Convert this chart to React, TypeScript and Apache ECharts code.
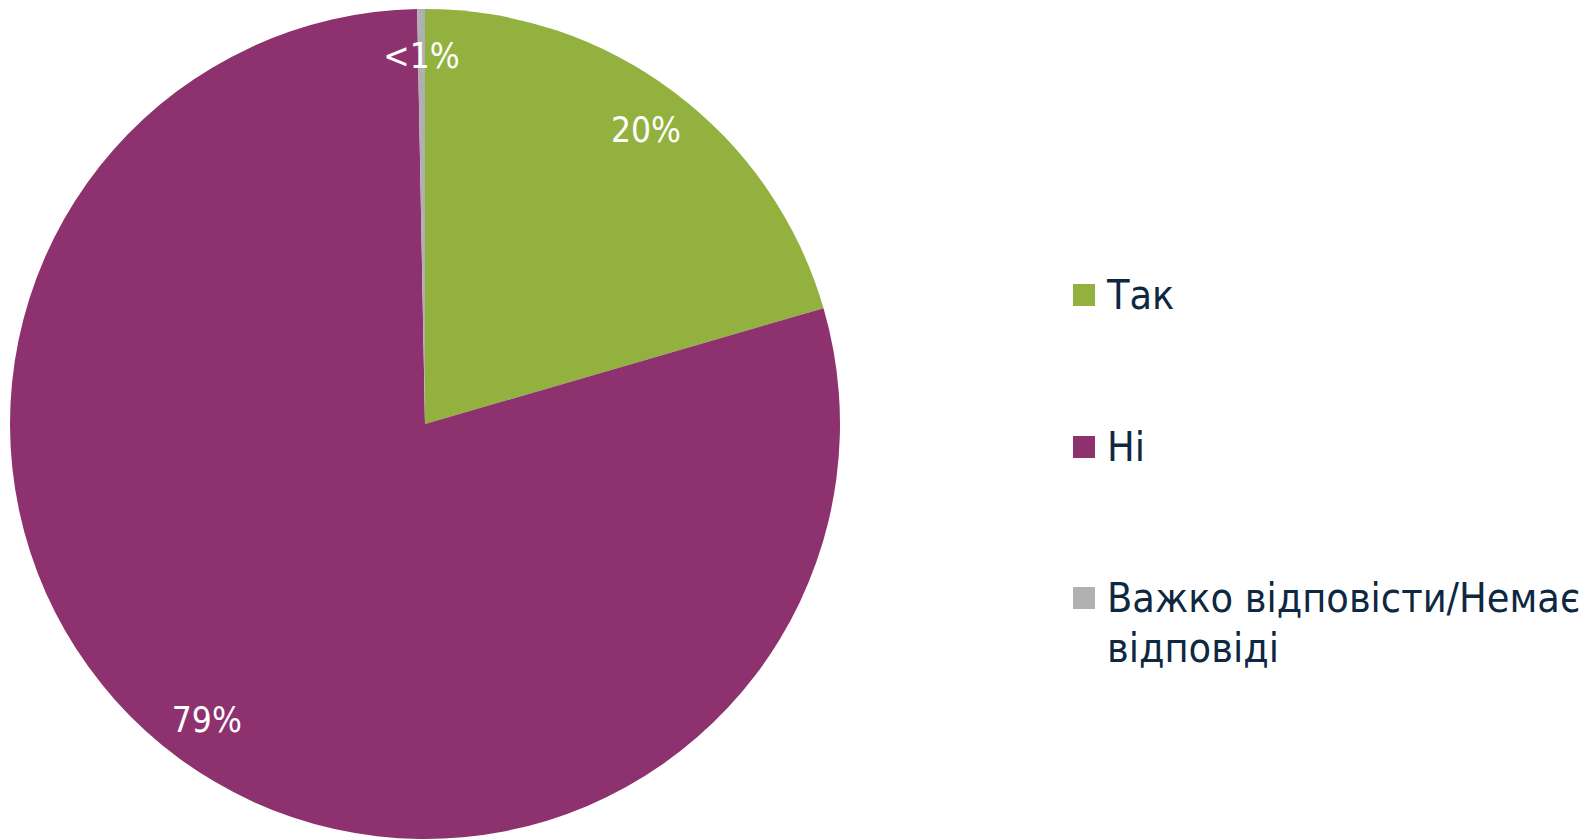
import React, { useEffect, useRef } from "react";
import * as echarts from "echarts";

const categories = ["Так", "Ні", "Важко відповісти/Немає відповіді"];
const values = [20.5, 79.2, 0.3];
const labels = ["20%", "79%", "<1%"];
const colors = ["#93B13F", "#8E326F", "#B0B0B0"];

const FONT = "'DejaVu Sans Condensed', 'DejaVu Sans', sans-serif";

export default function App() {
  const ref = useRef<HTMLDivElement>(null);
  useEffect(() => {
    if (!ref.current) return;
    const chart = echarts.init(ref.current, undefined, { renderer: "svg" });
    const data = categories.map((name, i) => ({
      name,
      value: values[i],
      itemStyle: { color: colors[i] },
    }));
    const labelData = categories.map((name, i) => ({
      name,
      value: values[i],
      label: { formatter: labels[i] },
    }));
    const legendText = {
      color: "#0E2841",
      fontSize: 41,
      fontFamily: FONT,
      lineHeight: 50,
      padding: [0, 0, 0, 7],
    };
    const legendBase = {
      orient: "vertical" as const,
      left: 1073,
      padding: 0,
      icon: "rect",
      itemWidth: 22,
      itemHeight: 22,
      itemGap: 12,
      selectedMode: false,
      textStyle: legendText,
    };
    chart.setOption({
      animation: false,
      backgroundColor: "#ffffff",
      legend: [
        { ...legendBase, data: [categories[0]], top: 270 },
        { ...legendBase, data: [categories[1]], top: 422 },
        {
          ...legendBase,
          data: [categories[2]],
          top: 598 - 75,
          formatter: () => "\u00a0\nВажко відповісти/Немає\nвідповіді",
        },
      ],
      series: [
        {
          type: "pie",
          center: [425, 424],
          radius: [0, 415],
          startAngle: 90,
          clockwise: true,
          data,
          label: { show: false },
          labelLine: { show: false },
          emphasis: { disabled: true },
          silent: true,
        },
        {
          type: "pie",
          center: [425, 424],
          radius: [315, 415],
          startAngle: 90,
          clockwise: true,
          data: labelData,
          itemStyle: { color: "rgba(0,0,0,0)" },
          label: {
            show: true,
            position: "inside",
            color: "#ffffff",
            fontSize: 35,
            fontFamily: FONT,
          },
          labelLine: { show: false },
          emphasis: { disabled: true },
          silent: true,
          legendHoverLink: false,
        },
      ],
    });
    return () => chart.dispose();
  }, []);
  return (
    <div
      ref={ref}
      style={{ position: "fixed", left: 0, top: 0, width: 1595, height: 839 }}
    />
  );
}
